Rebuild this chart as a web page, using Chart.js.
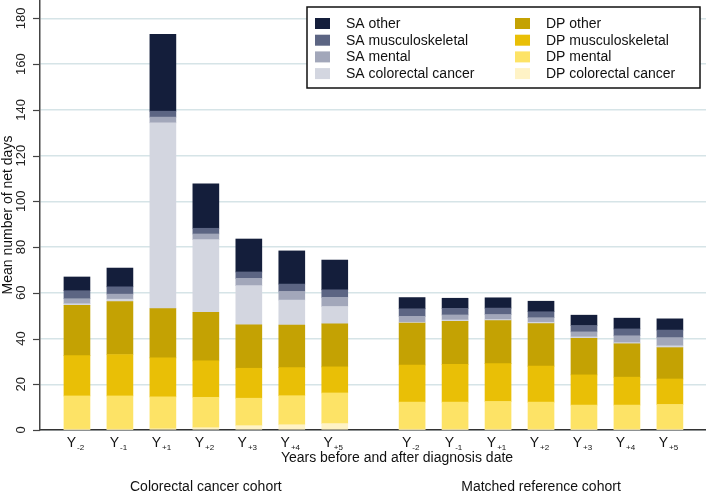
<!DOCTYPE html>
<html>
<head>
<meta charset="utf-8">
<script src="https://cdn.jsdelivr.net/npm/chart.js@4"></script>
<style>
  body { margin: 0; background: #fff; }
</style>
</head>
<body>
<canvas id="chart" width="706" height="492"></canvas>
<script>
// x categories (subscript part of the Y labels)
const yearSubs = ['-2', '-1', '+1', '+2', '+3', '+4', '+5'];
const cohorts = ['Colorectal cancer cohort', 'Matched reference cohort'];
const yTicks = [0, 20, 40, 60, 80, 100, 120, 140, 160, 180];

// mean net days, 7 bars per cohort
const dpCrc    = [0.3, 0.3, 0.5, 1.0, 1.9, 2.3, 2.8,   0.3, 0.3, 0.3, 0.3, 0.3, 0.3, 0.3];
const dpMental = [14.6, 14.6, 14.0, 13.3, 12.0, 12.7, 13.4,   11.9, 11.9, 12.2, 11.9, 10.6, 10.6, 10.9];
const dpMusc   = [17.6, 18.1, 17.0, 15.9, 13.1, 12.3, 11.4,   16.2, 16.5, 16.5, 15.7, 13.2, 12.2, 11.1];
const dpOther  = [22.0, 23.2, 21.6, 21.3, 19.0, 18.6, 18.8,   18.4, 18.8, 18.8, 18.6, 16.0, 14.6, 13.7];
const saCrc    = [0.7, 1.0, 81.2, 31.7, 17.1, 10.9, 7.6,   0.3, 0.6, 0.5, 0.6, 0.6, 0.5, 0.8];
const saMental = [2.2, 2.2, 2.5, 2.5, 3.2, 3.8, 4.0,   2.6, 2.2, 2.2, 2.0, 2.2, 3.0, 3.6];
const saMusc   = [3.5, 3.2, 2.6, 2.5, 2.8, 3.2, 3.3,   3.3, 2.9, 2.8, 2.6, 2.8, 3.0, 3.3];
const saOther  = [6.0, 8.2, 33.6, 19.4, 14.4, 14.5, 13.0,   4.9, 4.4, 4.5, 4.6, 4.5, 4.7, 4.9];

const FONT = '"Liberation Sans", Arial, sans-serif';
const groupGap = 0.8;  // extra space between the two cohorts (in bar steps)

// x position of each bar on the linear axis
const xPos = [];
cohorts.forEach((c, g) => {
    yearSubs.forEach((s, i) => xPos.push(g * (yearSubs.length + groupGap) + i));
});

function series(vals) {
    return vals.map((v, i) => ({ x: xPos[i], y: v }));
}

const datasets = [
    { label: 'DP colorectal cancer', data: series(dpCrc),    backgroundColor: '#fff3c6' },
    { label: 'DP mental',            data: series(dpMental), backgroundColor: '#fde366' },
    { label: 'DP musculoskeletal',   data: series(dpMusc),   backgroundColor: '#e9bf06' },
    { label: 'DP other',             data: series(dpOther),  backgroundColor: '#c4a203' },
    { label: 'SA colorectal cancer', data: series(saCrc),    backgroundColor: '#d3d6e0' },
    { label: 'SA mental',            data: series(saMental), backgroundColor: '#a2a7ba' },
    { label: 'SA musculoskeletal',   data: series(saMusc),   backgroundColor: '#5c6583' },
    { label: 'SA other',             data: series(saOther),  backgroundColor: '#141e3b' }
];
datasets.forEach(d => { d.barThickness = 26; d.borderWidth = 0; });

// x tick labels, y tick marks, axis title, cohort names and boxed legend
const decorPlugin = {
    id: 'decor',
    afterDraw(chart) {
        const ctx = chart.ctx;
        const xs = chart.scales.x;
        const ys = chart.scales.y;
        ctx.save();

        // short tick marks on the y axis
        ctx.strokeStyle = '#444';
        ctx.lineWidth = 1.2;
        yTicks.forEach(v => {
            const py = Math.round(ys.getPixelForValue(v)) + 0.5;
            ctx.beginPath();
            ctx.moveTo(33, py);
            ctx.lineTo(40, py);
            ctx.stroke();
        });

        ctx.fillStyle = '#111';
        ctx.textBaseline = 'alphabetic';

        // Y with subscripts
        xPos.forEach((x, i) => {
            const px = xs.getPixelForValue(x);
            const sub = yearSubs[i % yearSubs.length];
            ctx.font = '14px ' + FONT;
            const wY = ctx.measureText('Y').width;
            ctx.font = '8px ' + FONT;
            const wS = ctx.measureText(sub).width;
            const left = px - (wY + wS) / 2 - 2;
            ctx.font = '14px ' + FONT;
            ctx.textAlign = 'left';
            ctx.fillText('Y', left, 447);
            ctx.font = '8px ' + FONT;
            ctx.fillText(sub, left + wY + 1, 450);
        });

        // axis title
        ctx.font = '14px ' + FONT;
        ctx.textAlign = 'center';
        ctx.fillText('Years before and after diagnosis date', 397, 462);

        // cohort names under the middle bar of each group
        cohorts.forEach((c, g) => {
            const mid = xPos[g * yearSubs.length + 3];
            ctx.fillText(c, xs.getPixelForValue(mid), 491);
        });

        // legend box
        ctx.fillStyle = '#fff';
        ctx.fillRect(307, 7, 393, 81);
        ctx.strokeStyle = '#111';
        ctx.lineWidth = 1.5;
        ctx.strokeRect(307, 7, 393, 81);
        const cols = [
            ['SA other', 'SA musculoskeletal', 'SA mental', 'SA colorectal cancer'],
            ['DP other', 'DP musculoskeletal', 'DP mental', 'DP colorectal cancer']
        ];
        const colX = [315, 515];
        const rowY = [23, 39.7, 56.4, 73.1];
        ctx.font = '14px ' + FONT;
        ctx.textAlign = 'left';
        ctx.textBaseline = 'middle';
        cols.forEach((col, ci) => {
            col.forEach((name, ri) => {
                const ds = chart.data.datasets.find(d => d.label === name);
                ctx.fillStyle = ds.backgroundColor;
                ctx.fillRect(colX[ci], rowY[ri] - 5, 15, 11);
                ctx.fillStyle = '#111';
                ctx.fillText(name, colX[ci] + 31, rowY[ri] + 1);
            });
        });
        ctx.restore();
    }
};

const ctx = document.getElementById('chart').getContext('2d');
const chart = new Chart(ctx, {
    type: 'bar',
    data: { datasets: datasets },
    options: {
        responsive: false,
        animation: false,
        layout: { padding: 0 },
        plugins: {
            legend: { display: false },
            tooltip: { enabled: false }
        },
        scales: {
            x: {
                type: 'linear',
                stacked: true,
                offset: false,
                min: -0.86,
                max: xPos[xPos.length - 1] + 0.84,
                grid: { display: false },
                border: { display: true, color: '#333', width: 1.5 },
                ticks: { display: false },
                afterFit(scale) {
                    scale.height = 62;
                    scale.paddingLeft = 0;
                    scale.paddingRight = 0;
                }
            },
            y: {
                stacked: true,
                min: 0,
                max: 188,
                afterBuildTicks(scale) {
                    scale.ticks = yTicks.map(v => ({ value: v }));
                },
                grid: {
                    color: '#d6e4e7',
                    lineWidth: 1.5,
                    drawTicks: false
                },
                border: { display: true, color: '#444', width: 1.5 },
                ticks: {
                    minRotation: 90,
                    maxRotation: 90,
                    crossAlign: 'center',
                    padding: 8,
                    color: '#222',
                    font: { family: FONT, size: 13 }
                },
                title: {
                    display: true,
                    text: 'Mean number of net days',
                    color: '#111',
                    padding: 0,
                    font: { family: FONT, size: 14 }
                },
                afterFit(scale) {
                    scale.width = 40;
                    scale.paddingTop = 0;
                    scale.paddingBottom = 0;
                }
            }
        }
    },
    plugins: [decorPlugin]
});
</script>
</body>
</html>
